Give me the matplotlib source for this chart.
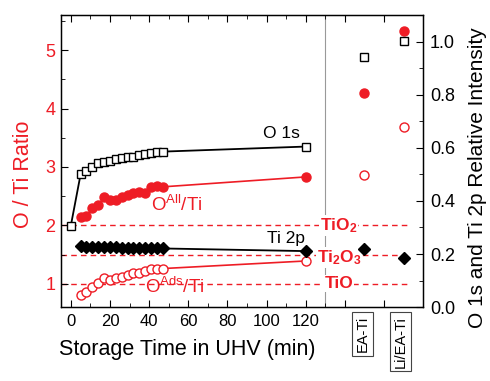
import matplotlib.pyplot as plt
import matplotlib.transforms as mtransforms
from matplotlib.ticker import MultipleLocator, FixedLocator

plt.rcParams['font.family'] = ['Liberation Sans', 'DejaVu Sans']
plt.rcParams['mathtext.fontset'] = 'custom'
plt.rcParams['mathtext.rm'] = 'Liberation Sans'
plt.rcParams['mathtext.it'] = 'Liberation Sans:italic'
plt.rcParams['mathtext.bf'] = 'Liberation Sans:bold'

RED = '#ee1c25'

# storage time series
t_o1s = [0, 5, 8, 11, 14, 17, 20, 23, 26, 29, 32, 35, 38, 41, 44, 47, 120]
o1s = [0.306, 0.500, 0.514, 0.527, 0.542, 0.548, 0.552, 0.557, 0.561, 0.565,
       0.567, 0.574, 0.577, 0.582, 0.585, 0.586, 0.605]

t_ratio = [5, 8, 11, 14, 17, 20, 23, 26, 29, 32, 35, 38, 41, 44, 47, 120]
o_all = [2.14, 2.16, 2.29, 2.35, 2.48, 2.43, 2.44, 2.49, 2.52, 2.55,
         2.57, 2.56, 2.66, 2.67, 2.66, 2.83]
o_ads = [0.81, 0.86, 0.95, 1.01, 1.09, 1.06, 1.09, 1.12, 1.15, 1.18,
         1.19, 1.22, 1.26, 1.26, 1.26, 1.39]
ti2p = [0.229, 0.228, 0.227, 0.226, 0.226, 0.225, 0.225, 0.224, 0.224, 0.223,
        0.223, 0.222, 0.222, 0.221, 0.221, 0.211]

# reference samples
samples = ['EA-Ti', 'Li/EA-Ti']
x_samples = [150, 170]
s_o1s = [0.942, 1.004]
s_all = [0.806, 1.040]
s_ads = [0.498, 0.678]
s_ti2p = [0.218, 0.184]

# stoichiometry references (O/Ti)
ref_names = [r'TiO$_\mathbf{2}$', r'Ti$_\mathbf{2}$O$_\mathbf{3}$', 'TiO']
ref_vals = [2.0, 1.5, 1.0]

fig = plt.figure(figsize=(4.9, 3.81), dpi=100)
ax = fig.add_axes([0.1245, 0.194, 0.739, 0.766])
ax2 = ax.twinx()

ax.set_xlim(-5, 180)
ax.set_ylim(0.6, 5.6)
ax2.set_ylim(0, 1.1)

# reference lines
for v in ref_vals:
    ax.plot([-5, 173], [v, v], ls=(0, (4, 3)), color=RED, lw=1.0, zorder=1)
ax.axvline(130, color='#999999', lw=0.8, zorder=1)

# time series
ax.plot(t_ratio, o_all, '-o', color=RED, ms=6.5, lw=1.2, zorder=3)
ax.plot(t_ratio, o_ads, '-o', color=RED, mfc='white', ms=6.5, mew=1.0, lw=1.2, zorder=3)
ax2.plot(t_o1s, o1s, '-s', color='black', mfc='white', ms=5.5, mew=1.0, lw=1.3, zorder=3)
ax2.plot(t_ratio, ti2p, '-D', color='black', ms=6.5, lw=1.3, zorder=3)

# sample points
ax2.plot(x_samples, s_all, 'o', color=RED, ms=6.5, ls='none')
ax2.plot(x_samples, s_ads, 'o', color=RED, mfc='white', ms=6.5, mew=1.0, ls='none')
ax2.plot(x_samples, s_o1s, 's', color='black', mfc='white', ms=5.5, mew=1.0, ls='none')
ax2.plot(x_samples, s_ti2p, 'D', color='black', ms=6.5, ls='none')

# series labels
ax.text(107.5, 3.57, 'O 1s', fontsize=12.5, ha='center', va='center')
ax.text(54, 2.35, r'O$^{\mathrm{All}}$/Ti', fontsize=13.5, color=RED, ha='center', va='center')
ax.text(110, 1.78, 'Ti 2p', fontsize=12.5, ha='center', va='center')
ax.text(53, 0.95, r'O$^{\mathrm{Ads}}$/Ti', fontsize=13.5, color=RED, ha='center', va='center')

ref_y = [2.0, 1.45, 1.0]
for name, y in zip(ref_names, ref_y):
    ax.text(137, y, name, fontsize=12.5, fontweight='bold', color=RED, ha='center', va='center',
            bbox=dict(boxstyle='square,pad=0.05', fc='white', ec='none'), zorder=2)

# sample labels under the axis
trans = mtransforms.blended_transform_factory(ax.transData, ax.transAxes)
for name, x in zip(samples, [149, 168.5]):
    ax.text(x, -0.03, name, transform=trans, rotation=90, fontsize=10.5, ha='center', va='top',
            bbox=dict(boxstyle='square,pad=0.25', fc='white', ec='#444444', lw=0.8))

# ticks
ax.xaxis.set_major_locator(FixedLocator([0, 20, 40, 60, 80, 100, 120, 140, 160]))
ax.xaxis.set_minor_locator(FixedLocator([10, 30, 50, 70, 90, 110, 130]))
ax.set_xticklabels(['0', '20', '40', '60', '80', '100', '120', '', ''])
ax.yaxis.set_major_locator(MultipleLocator(1))
ax.yaxis.set_minor_locator(MultipleLocator(0.5))
ax2.yaxis.set_minor_locator(MultipleLocator(0.1))
ax2.set_yticks([0, 0.2, 0.4, 0.6, 0.8, 1.0])
ax2.set_yticklabels(['0.0', '0.2', '0.4', '0.6', '0.8', '1.0'])

ax.tick_params(axis='x', which='both', direction='in', top=True, labelsize=12, pad=5)
ax.tick_params(axis='x', which='major', length=5)
ax.tick_params(axis='x', which='minor', length=3)
ax.tick_params(axis='y', which='both', direction='in', labelsize=13, labelcolor=RED, pad=4)
ax.tick_params(axis='y', which='major', length=5)
ax.tick_params(axis='y', which='minor', length=3)
ax2.tick_params(axis='y', which='both', direction='in', labelsize=13, pad=5)
ax2.tick_params(axis='y', which='major', length=5)
ax2.tick_params(axis='y', which='minor', length=3)

for sp in ax.spines.values():
    sp.set_linewidth(1.0)

ax.set_xlabel('Storage Time in UHV (min)', fontsize=15.5)
ax.xaxis.set_label_coords(0.35, -0.11)
ax.set_ylabel('O / Ti Ratio', fontsize=15.5, color=RED)
ax.yaxis.set_label_coords(-0.075, 0.455)
ax2.set_ylabel('O 1s and Ti 2p Relative Intensity', fontsize=15)
ax2.yaxis.set_label_coords(1.125, 0.445)

plt.savefig('out.png', dpi=100)
